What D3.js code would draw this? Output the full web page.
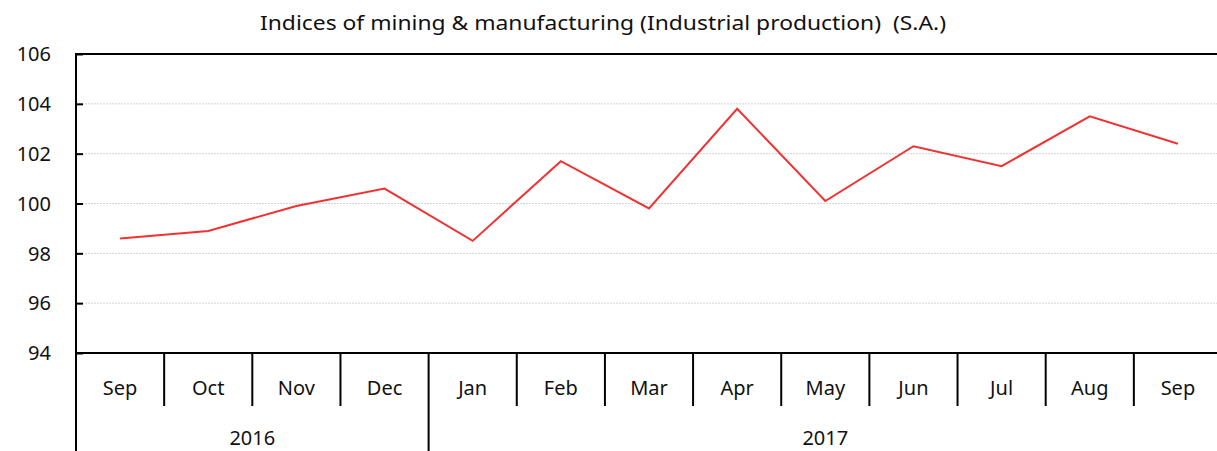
<!DOCTYPE html>
<html><head><meta charset="utf-8">
<script src="https://cdn.jsdelivr.net/npm/d3@7"></script>
<style>body{margin:0;background:#fff}svg{display:block}text{font-family:"Noto Sans",sans-serif;fill:#111}</style>
</head><body><svg id="c" width="1217" height="451"></svg>
<script>
const months = ["Sep","Oct","Nov","Dec","Jan","Feb","Mar","Apr","May","Jun","Jul","Aug","Sep"];
const years = [{label:"2016", start:0, end:4},{label:"2017", start:4, end:13}];
const values = [98.6,98.9,99.9,100.6,98.5,101.7,99.8,103.8,100.1,102.3,101.5,103.5,102.4];
const yTicks = [94,96,98,100,102,104,106];
const title = "Indices of mining & manufacturing (Industrial production)  (S.A.)";

const svg = d3.select("#c");
const L = 76, R = 1222, T = 54, B = 353;
const idx = d3.range(months.length);
const x = d3.scaleBand().domain(idx).range([L, R]);
const y = d3.scaleLinear().domain([94,106]).range([B, T]);

// gridlines
svg.append("g").selectAll("line").data(yTicks.filter(v=>v>94 && v<106)).join("line")
  .attr("x1", L).attr("x2", 1217).attr("y1", d=>y(d)).attr("y2", d=>y(d))
  .attr("stroke","#d4d4d4").attr("stroke-width",1).attr("stroke-dasharray","2,1");

// y axis ticks (inside)
const ya = svg.append("g").attr("transform",`translate(${L},0)`)
  .call(d3.axisRight(y).tickValues(yTicks).tickSize(7).tickFormat(""));
ya.select(".domain").remove();
ya.selectAll("line").attr("stroke","#000").attr("stroke-width",2);
svg.append("g").selectAll("text").data(yTicks).join("text")
  .attr("x", 51).attr("y", d=>y(d)).attr("dy","0.36em").attr("text-anchor","end")
  .attr("font-size",20).text(d=>d);

// top border, left axis, bottom axis
svg.append("line").attr("x1",L).attr("x2",1217).attr("y1",T).attr("y2",T).attr("stroke","#000").attr("stroke-width",2);
svg.append("line").attr("x1",L).attr("x2",L).attr("y1",T-1).attr("y2",451).attr("stroke","#000").attr("stroke-width",2);
svg.append("line").attr("x1",L).attr("x2",1217).attr("y1",B).attr("y2",B).attr("stroke","#000").attr("stroke-width",2);

// month dividers
const yearStarts = new Set(years.map(d=>d.start));
svg.append("g").selectAll("line").data(idx.filter(i=>i>0)).join("line")
  .attr("x1", i=>x(i)).attr("x2", i=>x(i)).attr("y1", B)
  .attr("y2", i=>yearStarts.has(i)?451:406)
  .attr("stroke","#000").attr("stroke-width",2);

// month labels
svg.append("g").selectAll("text").data(idx).join("text")
  .attr("x", i=>x(i)+x.bandwidth()/2).attr("y", 388).attr("dy","0.36em")
  .attr("text-anchor","middle").attr("font-size",20).text(i=>months[i]);

// year labels
svg.append("g").selectAll("text").data(years).join("text")
  .attr("x", d=>(x(d.start)+ (d.end<months.length? x(d.end) : R))/2).attr("y", 438).attr("dy","0.36em")
  .attr("text-anchor","middle").attr("font-size",20).text(d=>d.label);

// line
svg.append("path").datum(values)
  .attr("d", d3.line().x((d,i)=>x(i)+x.bandwidth()/2).y(d=>y(d)))
  .attr("fill","none").attr("stroke","#f23232").attr("stroke-width",2);

// title
svg.append("text").attr("x",260).attr("y",23).attr("dy","0.36em").attr("text-anchor","start")
  .attr("font-size",20).style("white-space","pre")
  .attr("textLength",686).attr("lengthAdjust","spacingAndGlyphs").text(title);
</script></body></html>
